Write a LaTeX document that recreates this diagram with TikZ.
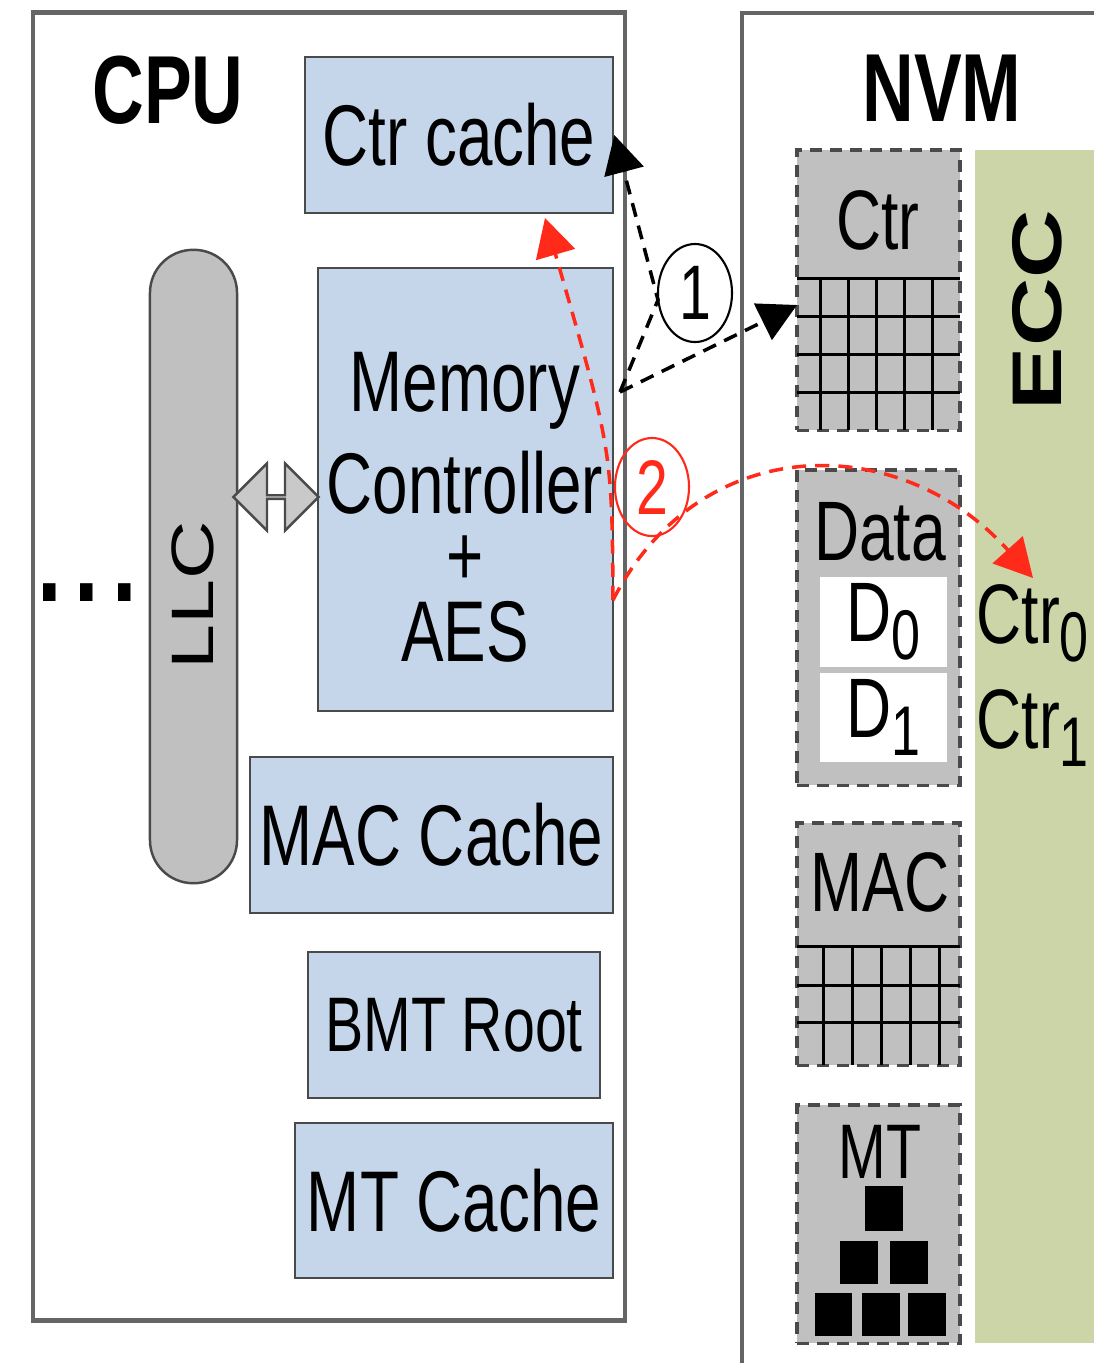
\documentclass[tikz,border=0pt]{standalone}
\usepackage{fontspec}
\setmainfont{Liberation Sans}[FakeStretch=0.74]
\newfontfamily\rotfont{Liberation Sans}
\usepackage{graphicx}
\usetikzlibrary{arrows.meta,shapes.geometric,shapes.arrows}

\definecolor{unitblue}{HTML}{C6D6EA}
\definecolor{blkgray}{HTML}{C0C0C0}
\definecolor{eccgreen}{HTML}{CBD5A8}
\definecolor{edgegray}{HTML}{4A4A4A}
\definecolor{flowred}{HTML}{FF2A1A}

\newcommand{\lowidx}[1]{\raisebox{-0.22em}{\fontsize{20}{20}\selectfont #1}}

\begin{document}
\begin{tikzpicture}[x=0.01cm,y=-0.01cm,
  unit/.style={draw=edgegray,fill=unitblue,line width=0.7pt,inner sep=0pt,font=\fontsize{24.5}{29}\selectfont},
  blk/.style={draw=edgegray,fill=blkgray,line width=0.9pt,dash pattern=on 3.4pt off 2.3pt,minimum width=1.63cm,inner sep=0pt},
  lbl/.style={font=\fontsize{24}{28}\selectfont,inner sep=0pt},
  title/.style={font=\bfseries\fontsize{27.5}{30}\selectfont,inner sep=0pt},
  cell/.style={line width=0.85pt},
  flow/.style={line width=1pt,dash pattern=on 4pt off 2.6pt,-{Triangle[length=0.38cm,width=0.4cm]}},
  numring/.style={ellipse,draw,line width=0.6pt,minimum width=0.74cm,minimum height=0.98cm,inner sep=0pt,font=\fontsize{22}{22}\selectfont}]
  \useasboundingbox (0,0) rectangle (1094,1363);

  % CPU side
  \node (cpu) [draw=edgegray!85,line width=1.3pt,minimum width=5.92cm,minimum height=13.07cm] at (329,666.5) {};
  \node (cpulbl) [title] at (168,90) {CPU};
  \node (ctrc) [unit,minimum width=3.08cm,minimum height=1.56cm] at (459,135) {Ctr cache};
  \node (mc) [unit,minimum width=2.95cm,minimum height=4.43cm] at (465.5,489.5) {};
  \node (mctext) [align=center,font=\fontsize{24.5}{29}\selectfont] at (465,507) {Memory\\Controller\\[-0.3cm]+\\[-0.26cm]AES};
  \node (macc) [unit,minimum width=3.63cm,minimum height=1.56cm] at (431.5,835) {MAC Cache};
  \node (bmt) [unit,minimum width=2.92cm,minimum height=1.46cm,font=\fontsize{22}{26}\selectfont] at (454,1025) {BMT Root};
  \node (mtc) [unit,minimum width=3.18cm,minimum height=1.55cm] at (454,1200.5) {MT Cache};

  \node (llc) [draw=edgegray,fill=blkgray,line width=0.7pt,rounded corners=0.43cm,minimum width=0.87cm,minimum height=6.33cm] at (193.5,566.5) {};
  \node (llctext) [rotate=90,inner sep=0pt] at (193,595) {\rotfont\fontsize{23}{23}\selectfont\scalebox{1}[0.74]{LLC}};
  \node (dots) [font=\bfseries\fontsize{34}{34}\selectfont,inner sep=0pt] at (87,593) {.\kern0.13cm.\kern0.13cm.};
  \node (bus) [double arrow,draw=edgegray,fill=blkgray!85,line width=0.7pt,inner sep=0pt,minimum height=0.85cm,minimum width=0.67cm,double arrow head extend=0.22cm] at (276,497) {};

  % NVM side
  \draw[edgegray!85,line width=1.3pt] (1120,13) -| (742,1390);
  \node (nvmlbl) [title] at (942,88) {NVM};
  \node (ecc) [fill=eccgreen,minimum width=1.25cm,minimum height=11.93cm,inner sep=0pt] at (1037.5,746.5) {};
  \node (ecctext) [rotate=90,inner sep=0pt] at (1037,310) {\rotfont\bfseries\fontsize{27}{27}\selectfont\scalebox{1}[0.74]{ECC}};
  \node (ctr0) [lbl,anchor=base west] at (976,643) {Ctr\lowidx{0}};
  \node (ctr1) [lbl,anchor=base west] at (976,748) {Ctr\lowidx{1}};

  \node (ctrblk) [blk,minimum height=2.8cm] at (878.5,290) {};
  \foreach \x in {820,848,...,932}
    \draw[cell] (\x,278) -- (\x,430);
  \foreach \y in {278,316,354,392}
    \draw[cell] (797,\y) -- (960,\y);
  \node (ctrlbl) [lbl] at (878,220) {Ctr};

  \node (datablk) [blk,minimum height=3.15cm] at (878.5,627.5) {};
  \node (datalbl) [lbl] at (880,532) {Data};
  \node (d0) [lbl,fill=white,minimum width=1.27cm,minimum height=0.9cm] at (883.5,622) {D\lowidx{0}};
  \node (d1) [lbl,fill=white,minimum width=1.27cm,minimum height=0.89cm] at (883.5,717.5) {D\lowidx{1}};

  \node (macblk) [blk,minimum height=2.42cm] at (878.5,944) {};
  \foreach \x in {823,852,...,939}
    \draw[cell] (\x,946) -- (\x,1065);
  \foreach \y in {946,985,1022}
    \draw[cell] (797,\y) -- (960,\y);
  \node (maclbl) [lbl] at (880,882) {MAC};

  \node (mtblk) [blk,minimum height=2.38cm] at (878.5,1224) {};
  \node (mtlbl) [lbl,font=\fontsize{22}{26}\selectfont] at (880,1152) {MT};
  \fill (865,1186) rectangle (903,1231);
  \fill (840,1241) rectangle (878,1284);
  \fill (890,1241) rectangle (928,1284);
  \fill (815,1293) rectangle (852,1336);
  \fill (862,1293) rectangle (900,1336);
  \fill (908,1293) rectangle (946,1336);

  % step 1: fetch counter
  \coordinate (s1) at (620,392);
  \coordinate (t1) at (797,305);
  \draw[flow] (s1) -- (658,300) -- (ctrc.east);
  \draw[flow] (s1) -- (t1);
  \node (n1) [numring] at (695,293) {1};

  % step 2: counter to ECC
  \coordinate (s2) at (613,600);
  \coordinate (t2) at (545,218);
  \coordinate (t3) at (1033,578);
  \draw[flow,flowred] (s2) .. controls (612,450) .. (t2);
  \draw[flow,flowred] (s2) .. controls (700,430) and (900,430) .. (t3);
  \node (n2) [numring,draw=flowred,text=flowred] at (652,487) {2};
\end{tikzpicture}
\end{document}
